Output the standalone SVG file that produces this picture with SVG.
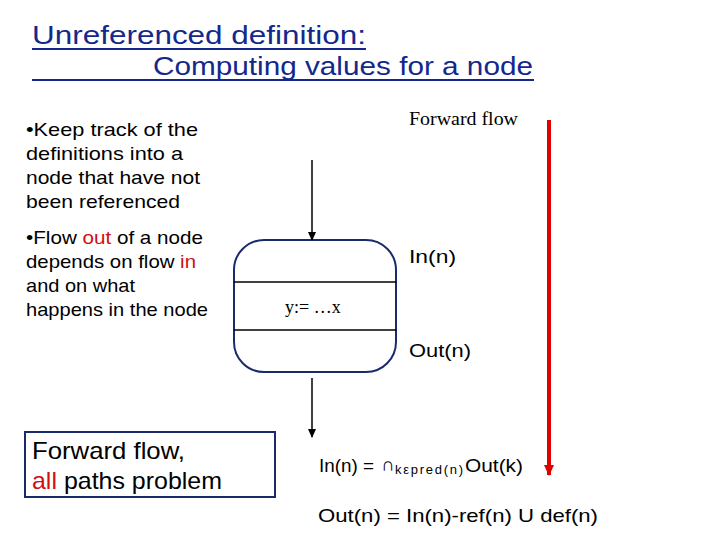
<svg xmlns="http://www.w3.org/2000/svg" width="720" height="540" viewBox="0 0 720 540">
<style>
.title{font-family:"Liberation Sans",Arial,sans-serif;font-size:25px;fill:#14288c}
.body{font-family:"Liberation Sans",Arial,sans-serif;font-size:19px;fill:#000}
.sub{font-family:"Liberation Sans",Arial,sans-serif;font-size:13px;fill:#000}
.serif{font-family:"Liberation Serif","Times New Roman",serif;font-size:18px;fill:#000}
.red{fill:#d01010}
.big{font-family:"Liberation Sans",Arial,sans-serif;font-size:24px;fill:#000}
.edge{stroke:#000;stroke-width:1.5;fill:none}
</style>
<defs>
<marker id="ah" markerWidth="10" markerHeight="10" refX="8" refY="5" orient="auto" markerUnits="userSpaceOnUse">
<path d="M0,1 L9,5 L0,9 Z" fill="#000"/>
</marker>
<marker id="ahr" markerWidth="12" markerHeight="12" refX="10" refY="6" orient="auto" markerUnits="userSpaceOnUse">
<path d="M0,1 L11,6 L0,11 Z" fill="#e00000"/>
</marker>
</defs>
<rect width="720" height="540" fill="#fff"/>
<g id="title">
<text class="title" x="32" y="44" textLength="334" lengthAdjust="spacingAndGlyphs">Unreferenced definition:</text>
<line x1="32" y1="49" x2="366" y2="49" stroke="#14288c" stroke-width="2"/>
<text class="title" x="153" y="75" textLength="380" lengthAdjust="spacingAndGlyphs">Computing values for a node</text>
<line x1="32" y1="80" x2="534" y2="80" stroke="#14288c" stroke-width="2"/>
</g>
<g id="bullets">
<text class="body" x="26" y="136" textLength="172" lengthAdjust="spacingAndGlyphs">•Keep track of the</text>
<text class="body" x="26" y="160" textLength="157" lengthAdjust="spacingAndGlyphs">definitions into a</text>
<text class="body" x="26" y="184" textLength="174" lengthAdjust="spacingAndGlyphs">node that have not</text>
<text class="body" x="26" y="208" textLength="154" lengthAdjust="spacingAndGlyphs">been referenced</text>
<text class="body" x="26" y="244" textLength="177" lengthAdjust="spacingAndGlyphs">•Flow <tspan class="red">out</tspan> of a node</text>
<text class="body" x="26" y="268" textLength="170" lengthAdjust="spacingAndGlyphs">depends on flow <tspan class="red">in</tspan></text>
<text class="body" x="26" y="292" textLength="109" lengthAdjust="spacingAndGlyphs">and on what</text>
<text class="body" x="26" y="316" textLength="182" lengthAdjust="spacingAndGlyphs">happens in the node</text>
</g>
<g id="summary">
<rect x="25" y="432" width="250" height="65" fill="none" stroke="#1a2a6a" stroke-width="2"/>
<text class="big" x="32" y="459" textLength="153" lengthAdjust="spacingAndGlyphs">Forward flow,</text>
<text class="big" x="32" y="489" textLength="190" lengthAdjust="spacingAndGlyphs"><tspan class="red">all</tspan> paths problem</text>
</g>
<g id="node">
<rect x="234" y="240" width="162" height="132" rx="30" ry="30" fill="#fff" stroke="#1a2a6a" stroke-width="2"/>
<line x1="234" y1="282" x2="396" y2="282" stroke="#000" stroke-width="1.5"/>
<line x1="234" y1="330" x2="396" y2="330" stroke="#000" stroke-width="1.5"/>
<text class="serif" x="285" y="313">y:= …x</text>
</g>
<g id="labels">
<text class="serif" x="409" y="125" textLength="109" lengthAdjust="spacingAndGlyphs">Forward flow</text>
<text class="body" x="409" y="263" textLength="47" lengthAdjust="spacingAndGlyphs">In(n)</text>
<text class="body" x="409" y="357" textLength="62" lengthAdjust="spacingAndGlyphs">Out(n)</text>
<text class="body" x="319" y="472" textLength="55" lengthAdjust="spacingAndGlyphs">In(n) =</text>
<text class="body" x="381" y="471" font-size="16">∩</text>
<text class="sub" x="395" y="474" textLength="68" lengthAdjust="spacing">kεpred(n)</text>
<text class="body" x="465" y="472" textLength="58" lengthAdjust="spacingAndGlyphs">Out(k)</text>
<text class="body" x="318" y="522" textLength="280" lengthAdjust="spacingAndGlyphs">Out(n) = In(n)-ref(n) U def(n)</text>
</g>
<g id="connectors">
<line class="edge" x1="312" y1="160" x2="312" y2="240" marker-end="url(#ah)"/>
<line class="edge" x1="312" y1="378" x2="312" y2="437" marker-end="url(#ah)"/>
<line x1="549" y1="120" x2="549" y2="475" stroke="#e00000" stroke-width="4" marker-end="url(#ahr)"/>
</g>
</svg>
